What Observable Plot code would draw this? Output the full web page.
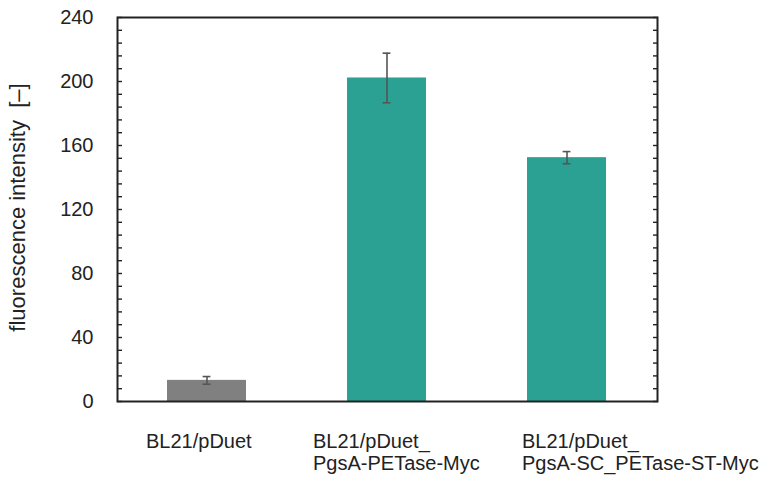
<!DOCTYPE html>
<html>
<head>
<meta charset="utf-8">
<script src="https://cdn.jsdelivr.net/npm/d3@7"></script>
<script src="https://cdn.jsdelivr.net/npm/@observablehq/plot@0.6"></script>
<style>
  html, body { margin: 0; padding: 0; background: #fff; }
  #chart svg { font-family: "Liberation Sans", Arial, sans-serif; overflow: visible; }
</style>
</head>
<body>
<div id="chart"></div>
<script>
const categories = ["BL21/pDuet", "BL21/pDuet_\nPgsA-PETase-Myc", "BL21/pDuet_\nPgsA-SC_PETase-ST-Myc"];
const values = [13.2, 202.2, 152.4];
const errors = [2.4, 15.5, 3.8];
const barColors = ["#808080", "#2aa193", "#2aa193"];
const yMajorTicks = [0, 40, 80, 120, 160, 200, 240];
const yMinorTicks = d3.range(0, 241, 8);
const yLabel = "fluorescence intensity  [\u2013]";
const labelShifts = [-61, -74, -45];

const data = categories.map((c, i) => ({
  cat: c, value: values[i], err: errors[i], color: barColors[i], shift: labelShifts[i]
}));

const barW = 79.2;
const capW = 8;
const capInset = (barW - capW) / 2;

const plot = Plot.plot({
  width: 764,
  height: 478,
  marginLeft: 117,
  marginRight: 107,
  marginTop: 17,
  marginBottom: 77,
  style: { fontFamily: "Liberation Sans, Arial, sans-serif", background: "#fff", color: "#000", overflow: "visible" },
  x: { domain: categories, paddingInner: 0.56, paddingOuter: 0.28, axis: null },
  y: { domain: [0, 240], axis: null },
  marks: [
    Plot.barY(data, { x: "cat", y: "value", fill: "color" }),
    Plot.ruleX(data, { x: "cat", y1: d => d.value - d.err, y2: d => d.value + d.err, stroke: "#555", strokeWidth: 1.6 }),
    Plot.tickY(data, { x: "cat", y: d => d.value + d.err, stroke: "#555", strokeWidth: 1.6, insetLeft: capInset, insetRight: capInset }),
    Plot.tickY(data, { x: "cat", y: d => d.value - d.err, stroke: "#555", strokeWidth: 1.6, insetLeft: capInset, insetRight: capInset }),
    Plot.axisY({ ticks: yMinorTicks, anchor: "left", tickSize: 5, dx: 5, text: null, label: null, stroke: "#222", strokeWidth: 1.4 }),
    Plot.axisY({ ticks: yMinorTicks, anchor: "right", tickSize: 5, dx: -5, text: null, label: null, stroke: "#222", strokeWidth: 1.4 }),
    Plot.axisY({ ticks: yMajorTicks, anchor: "left", tickSize: 0, tickPadding: 24, fontSize: 20, label: null, fill: "#222" }),
    Plot.frame({ stroke: "#222", strokeWidth: 2 }),
    ...data.map(d => Plot.text([d], {
      x: "cat", text: "cat", frameAnchor: "bottom", textAnchor: "start", lineAnchor: "top",
      dy: 31, dx: d.shift, fontSize: 20, lineHeight: 1.1, fill: "#222"
    })),
    Plot.text([yLabel], { frameAnchor: "left", textAnchor: "middle", rotate: -90, dx: -100, dy: -2, fontSize: 22, fill: "#222" })
  ]
});
document.getElementById("chart").appendChild(plot);
</script>
</body>
</html>
